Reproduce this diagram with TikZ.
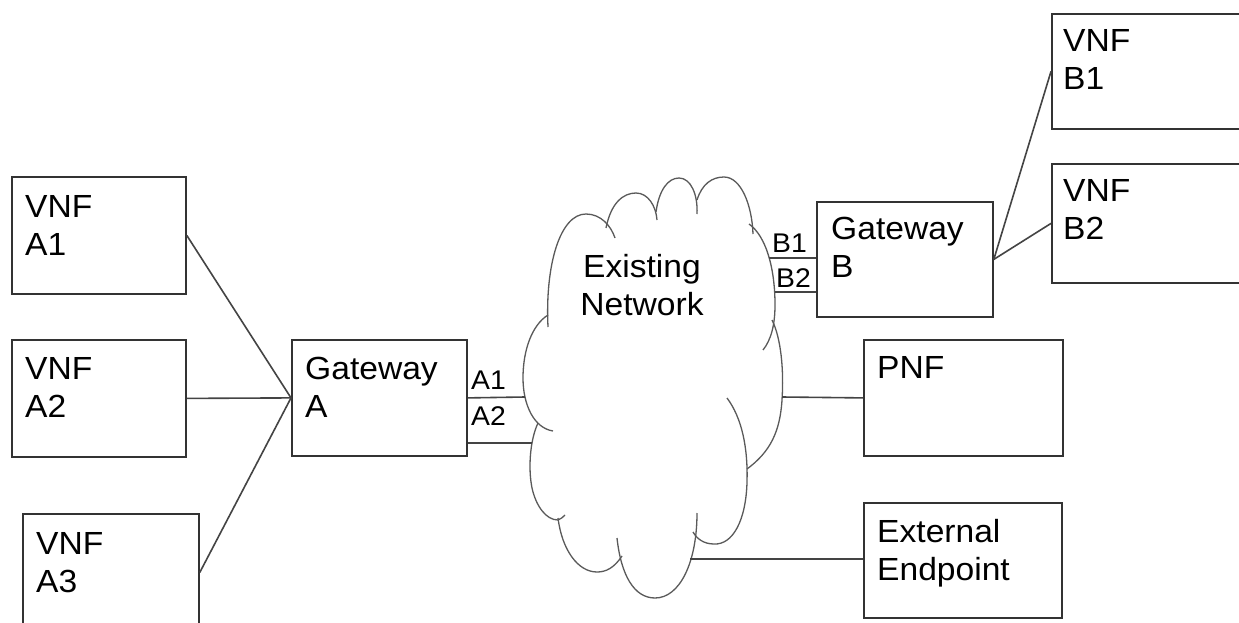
\documentclass[tikz,border=0pt]{standalone}
\usepackage{fontspec}
\setmainfont{Liberation Sans}[FakeStretch=1.05]
\definecolor{boxgray}{HTML}{333333}
\definecolor{wiregray}{HTML}{444444}
\definecolor{cloudgray}{HTML}{5A5A5A}
\begin{document}
\begin{tikzpicture}[x=1pt,y=-1pt,
  box/.style={draw=boxgray, line width=1.8pt, anchor=north west, inner sep=0pt, fill=white},
  wire/.style={draw=wiregray, line width=1.6pt},
  puff/.style={draw=cloudgray, line width=1.3pt},
  % multi-line labels are anchored at the baseline of their last line
  lbl/.style={anchor=base west, align=left, inner sep=0pt, font=\fontsize{32}{38}\selectfont},
  port/.style={anchor=base west, inner sep=0pt, font=\fontsize{27}{30}\selectfont},
]
\useasboundingbox (0,0) rectangle (1239,623);
\fill[white] (0,0) rectangle (1239,623);
\clip (0,0) rectangle (1239,623);

% boxes
\node[box, minimum width=174pt, minimum height=117pt] (vnfA1) at (11,176) {};
\node[box, minimum width=174pt, minimum height=117pt] (vnfA2) at (11,339) {};
\node[box, minimum width=176pt, minimum height=117pt] (vnfA3) at (22,513) {};
\node[box, minimum width=175pt, minimum height=116pt] (gwA) at (291,339) {};
\node[box, minimum width=176pt, minimum height=115pt] (gwB) at (816,201) {};
\node[box, minimum width=230pt, minimum height=115pt] (vnfB1) at (1051,13) {};
\node[box, minimum width=230pt, minimum height=119pt] (vnfB2) at (1051,163) {};
\node[box, minimum width=199pt, minimum height=116pt] (pnf) at (863,339) {};
\node[box, minimum width=198pt, minimum height=115pt] (ext) at (863,502) {};

% box texts
\node[lbl] (tA1) at (25,255) {VNF\\A1};
\node[lbl] (tA2) at (25,417) {VNF\\A2};
\node[lbl] (tA3) at (36,592) {VNF\\A3};
\node[lbl] (tGA) at (305,417) {Gateway\\A};
\node[lbl] (tGB) at (831,277) {Gateway\\B};
\node[lbl] (tB1) at (1063,90) {VNF\\B1};
\node[lbl] (tB2) at (1063,239) {VNF\\B2};
\node[lbl] (tP) at (877,378) {PNF};
\node[lbl] (tE) at (877,580) {External\\Endpoint};

% the cloud, drawn lobe by lobe
\draw[puff] (548,327) .. controls (545,265) and (560,214) .. (586,214) .. controls (601,214) and (611,226) .. (615,238);
\draw[puff] (606,228) .. controls (611,203) and (623,193) .. (636,193) .. controls (648,193) and (656,206) .. (657,220);
\draw[puff] (656,212) .. controls (659,190) and (668,178) .. (679,178) .. controls (691,178) and (698,195) .. (697,214);
\draw[puff] (697,200) .. controls (702,184) and (712,177) .. (724,177) .. controls (741,177) and (752,205) .. (753,234);
\draw[puff] (749,224) .. controls (766,236) and (775,268) .. (775,305) .. controls (775,325) and (771,340) .. (763,350);
\draw[puff] (772,320) .. controls (781,338) and (784,370) .. (782,400) .. controls (780,432) and (770,452) .. (747,469);
\draw[puff] (727,398) .. controls (742,418) and (748,448) .. (747,482) .. controls (746,520) and (733,545) .. (714,544) .. controls (704,544) and (697,539) .. (693,532);
\draw[puff] (697,513) .. controls (697,562) and (680,598) .. (655,598) .. controls (634,598) and (621,575) .. (617,538);
\draw[puff] (622,556) .. controls (614,568) and (606,572) .. (597,572) .. controls (578,572) and (562,550) .. (558,518);
\draw[puff] (538,423) .. controls (530,440) and (528,468) .. (532,488) .. controls (536,506) and (546,520) .. (558,520) .. controls (561,519) and (563,517) .. (565,515);
\draw[puff] (548,315) .. controls (532,325) and (523,350) .. (523,378) .. controls (523,405) and (534,428) .. (553,431);
\node[font=\fontsize{32}{38}\selectfont, align=center, anchor=base, inner sep=0pt] (net) at (642,315) {Existing\\Network};

% attachment points on the cloud
\coordinate (netA1) at (525,397);
\coordinate (netA2) at (532,443);
\coordinate (netB1) at (769,258);
\coordinate (netB2) at (775,292);
\coordinate (netP) at (782,397);
\coordinate (netE) at (690,559);

% connectors
\draw[wire] (vnfA1.east) -- (gwA.west);
\draw[wire] (vnfA2.east) -- (gwA.west);
\draw[wire] (vnfA3.east) -- (gwA.west);
\draw[wire] (gwA.east) -- (netA1);
\draw[wire] (gwA.east |- netA2) -- (netA2);
\draw[wire] (netB1) -- (gwB.west |- netB1);
\draw[wire] (netB2) -- (gwB.west |- netB2);
\draw[wire] (gwB.east) -- (vnfB1.west);
\draw[wire] (gwB.east) -- (vnfB2.west);
\draw[wire] (netP) -- (pnf.west);
\draw[wire] (netE) -- (ext.west |- netE);

% port labels
\node[port] (pA1) at (471,389) {A1};
\node[port] (pA2) at (471,425) {A2};
\node[port] (pB1) at (772,252) {B1};
\node[port] (pB2) at (776,287) {B2};
\end{tikzpicture}
\end{document}
